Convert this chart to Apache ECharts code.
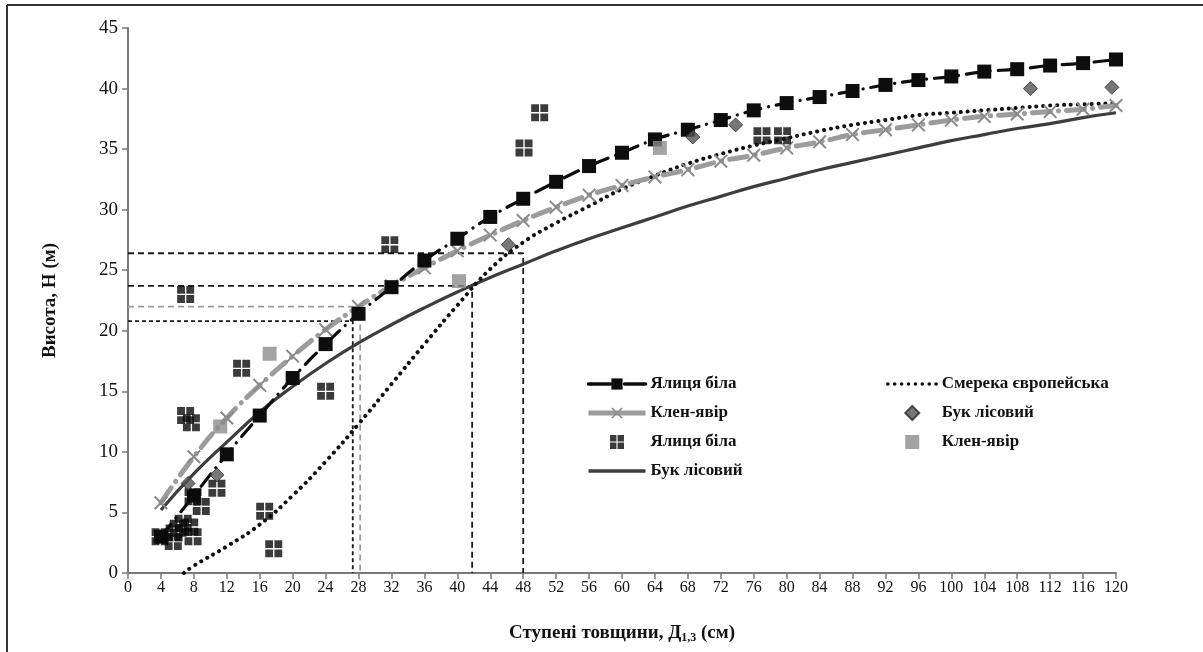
<!DOCTYPE html>
<html>
<head>
<meta charset="utf-8">
<script src="https://cdn.jsdelivr.net/npm/echarts@6/dist/echarts.min.js"></script>
<style>
  html, body { margin: 0; padding: 0; background: #fff; }
  #chart { width: 1203px; height: 652px; }
</style>
</head>
<body>
<div id="chart"></div>
<script>
// Diameter classes (cm) used by the fitted height curves
const steps = [4, 8, 12, 16, 20, 24, 28, 32, 36, 40, 44, 48, 52, 56, 60, 64, 68, 72, 76, 80, 84, 88, 92, 96, 100, 104, 108, 112, 116, 120];

// Fitted heights (m)
const firFit    = [3.0, 6.4, 9.8, 13.0, 16.1, 18.9, 21.4, 23.6, 25.8, 27.6, 29.4, 30.9, 32.3, 33.6, 34.7, 35.8, 36.6, 37.4, 38.2, 38.8, 39.3, 39.8, 40.3, 40.7, 41.0, 41.4, 41.6, 41.9, 42.1, 42.4];
const mapleFit  = [5.8, 9.6, 12.8, 15.5, 17.9, 20.1, 22.0, 23.7, 25.2, 26.6, 27.9, 29.1, 30.2, 31.2, 32.0, 32.7, 33.3, 34.0, 34.5, 35.1, 35.6, 36.2, 36.6, 37.0, 37.4, 37.7, 37.9, 38.1, 38.3, 38.6];
const beechFit  = [5.2, 8.2, 10.8, 13.3, 15.4, 17.3, 19.0, 20.5, 21.9, 23.2, 24.4, 25.5, 26.6, 27.6, 28.5, 29.4, 30.3, 31.1, 31.9, 32.6, 33.3, 33.9, 34.5, 35.1, 35.7, 36.2, 36.7, 37.1, 37.6, 38.0];
const spruceSteps = [6.8, 8, 12, 16, 20, 24, 28, 32, 36, 40, 44, 48, 52, 56, 60, 64, 68, 72, 76, 80, 84, 88, 92, 96, 100, 104, 108, 112, 116, 120];
const spruceFit = [0.0, 0.6, 2.2, 4.0, 6.4, 9.2, 12.3, 15.6, 18.9, 22.1, 25.1, 27.3, 28.9, 30.3, 31.7, 32.8, 33.8, 34.6, 35.3, 35.9, 36.5, 37.0, 37.4, 37.8, 38.0, 38.2, 38.4, 38.6, 38.7, 38.8];

// Measured trees
const firObsX   = [3.9, 5.5, 5.6, 6.1, 6.7, 7.5, 7.9, 7.9, 8.9, 10.8, 7.0, 7.7, 7.0, 13.8, 16.6, 17.7, 24.0, 31.8, 48.1, 50.0, 77.0, 79.5];
const firObsY   = [3.0, 2.6, 3.3, 3.7, 4.1, 3.8, 3.0, 6.3, 5.5, 7.0, 13.0, 12.4, 23.0, 16.9, 5.1, 2.0, 15.0, 27.1, 35.1, 38.0, 36.1, 36.1];
const beechObsX = [7.3, 10.8, 46.2, 68.6, 73.8, 109.6, 119.5];
const beechObsY = [7.4, 8.1, 27.1, 36.0, 37.0, 40.0, 40.1];
const mapleObsX = [11.2, 17.2, 40.2, 64.6];
const mapleObsY = [12.1, 18.1, 24.1, 35.1];

// Reading lines: height level and the diameter where it meets a curve
const guideY = [26.4, 23.7, 22.0, 20.8];
const guideX = [48.0, 41.8, 28.2, 27.3];
const guideColors = ['#1a1a1a', '#1a1a1a', '#9a9a9a', '#1a1a1a'];

const pairs = (xs, ys) => xs.map((x, i) => [x, ys[i]]);

const SERIF = '"Liberation Serif", "Times New Roman", serif';
const crossSym = 'path://M1,0 L5,4 L9,0 L10,1 L6,5 L10,9 L9,10 L5,6 L1,10 L0,9 L4,5 L0,1 Z';
const quadSym = 'path://M0,0H4.6V4.6H0Z M5.4,0H10V4.6H5.4Z M0,5.4H4.6V10H0Z M5.4,5.4H10V10H5.4Z';
const diamondSym = 'path://M5,0 L10,5 L5,10 L0,5 Z';
const squareSym = 'path://M0,0 H10 V10 H0 Z';

const labels = {
  firFit: 'Ялиця біла',
  mapleFit: 'Клен-явір',
  firObs: 'Ялиця біла',
  beechFit: 'Бук лісовий',
  spruceFit: 'Смерека європейська',
  beechObs: 'Бук лісовий',
  mapleObs: 'Клен-явір'
};

// plain curves carry no marker in the legend
const noMarker = { color: 'rgba(0,0,0,0)', borderColor: 'rgba(0,0,0,0)', borderWidth: 0 };

const guideSeries = guideY.map((gy, i) => ({
  name: 'guide' + i,
  type: 'line',
  data: [[0, gy], [guideX[i], gy], [guideX[i], 0]],
  symbol: 'none',
  silent: true,
  z: 1,
  lineStyle: { color: guideColors[i], width: 1.8, type: i === 3 ? [4, 3] : [6, 4] }
}));

const legendText = { fontFamily: SERIF, fontWeight: 'bold', fontSize: 17, color: '#111', lineHeight: 18 };

const chart = echarts.init(document.getElementById('chart'), null, { renderer: 'canvas' });

chart.setOption({
  backgroundColor: '#fff',
  animation: false,
  graphic: [
    { type: 'line', shape: { x1: 7, y1: 5, x2: 7, y2: 652 }, style: { stroke: '#333', lineWidth: 2 } },
    { type: 'line', shape: { x1: 7, y1: 5, x2: 1203, y2: 5 }, style: { stroke: '#333', lineWidth: 2 } }
  ],
  grid: { left: 128, right: 87, top: 28, bottom: 79 },
  legend: [
    {
      left: 586, top: 375, padding: 0, orient: 'vertical', itemWidth: 57, itemHeight: 14, itemGap: 11,
      data: [
        { name: 'firFit', lineStyle: { width: 3.5, type: [22, 7, 0.1, 7], cap: 'round' } },
        { name: 'mapleFit', lineStyle: { width: 5, type: 'solid', cap: 'butt' } },
        'firObs',
        { name: 'beechFit', itemStyle: noMarker, lineStyle: { width: 3.5 } }
      ],
      formatter: n => labels[n],
      textStyle: legendText
    },
    {
      left: 886, top: 375, padding: 0, orient: 'vertical', itemWidth: 49, itemHeight: 14, itemGap: 11,
      data: [
        { name: 'spruceFit', itemStyle: noMarker, lineStyle: { width: 3.5 } },
        'beechObs',
        'mapleObs'
      ],
      formatter: n => labels[n],
      textStyle: legendText
    }
  ],
  xAxis: {
    type: 'value', min: 0, max: 120, interval: 4,
    name: '{t|Ступені товщини, Д}{s|1,3}{t| (см)}',
    nameLocation: 'middle', nameGap: 50,
    nameTextStyle: {
      rich: {
        t: { fontFamily: SERIF, fontWeight: 'bold', fontSize: 19, color: '#111' },
        s: { fontFamily: SERIF, fontWeight: 'bold', fontSize: 12, color: '#111', padding: [9, 0, 0, 0] }
      }
    },
    axisLine: { show: true, lineStyle: { color: '#7a7a7a', width: 2 } },
    axisTick: { show: true, length: 6, lineStyle: { color: '#7a7a7a', width: 1.5 } },
    axisLabel: { fontFamily: SERIF, fontSize: 16, color: '#111', margin: 7 },
    splitLine: { show: false }
  },
  yAxis: {
    type: 'value', min: 0, max: 45, interval: 5,
    name: 'Висота, Н (м)',
    nameLocation: 'middle', nameGap: 68, nameRotate: 90,
    nameTextStyle: { fontFamily: SERIF, fontWeight: 'bold', fontSize: 19, color: '#111' },
    axisLine: { show: true, lineStyle: { color: '#7a7a7a', width: 2 } },
    axisTick: { show: true, length: 6, lineStyle: { color: '#7a7a7a', width: 1.5 } },
    axisLabel: { fontFamily: SERIF, fontSize: 19, color: '#111', margin: 10 },
    splitLine: { show: false }
  },
  series: [
    ...guideSeries,
    {
      name: 'beechFit', type: 'line', data: pairs(steps, beechFit),
      smooth: true, symbol: 'none', z: 3,
      lineStyle: { color: '#3d3d3d', width: 3.2 }
    },
    {
      name: 'spruceFit', type: 'line', data: pairs(spruceSteps, spruceFit),
      smooth: true, symbol: 'none', z: 3,
      lineStyle: { color: '#111', width: 4, type: [0.1, 6.8], cap: 'round' }
    },
    {
      name: 'mapleFit', type: 'line', data: pairs(steps, mapleFit),
      smooth: true, symbol: crossSym, symbolSize: 14, z: 4,
      itemStyle: { color: '#8a8a8a' },
      lineStyle: { color: '#9c9c9c', width: 5, type: [18, 8, 0.1, 8], cap: 'round' }
    },
    {
      name: 'firFit', type: 'line', data: pairs(steps, firFit),
      smooth: true, symbol: 'rect', symbolSize: 14, z: 5,
      itemStyle: { color: '#0d0d0d' },
      lineStyle: { color: '#0d0d0d', width: 3.2, type: [16, 8, 0.1, 8], cap: 'round' }
    },
    {
      name: 'firObs', type: 'scatter', data: pairs(firObsX, firObsY),
      symbol: quadSym, symbolSize: 17, z: 6,
      itemStyle: { color: '#0a0a0a' }
    },
    {
      name: 'beechObs', type: 'scatter', data: pairs(beechObsX, beechObsY),
      symbol: diamondSym, symbolSize: 14, z: 6,
      itemStyle: { color: '#555', borderColor: '#2a2a2a', borderWidth: 1 }
    },
    {
      name: 'mapleObs', type: 'scatter', data: pairs(mapleObsX, mapleObsY),
      symbol: squareSym, symbolSize: 14, z: 6,
      itemStyle: { color: '#8c8c8c' }
    }
  ]
});
</script>
</body>
</html>
